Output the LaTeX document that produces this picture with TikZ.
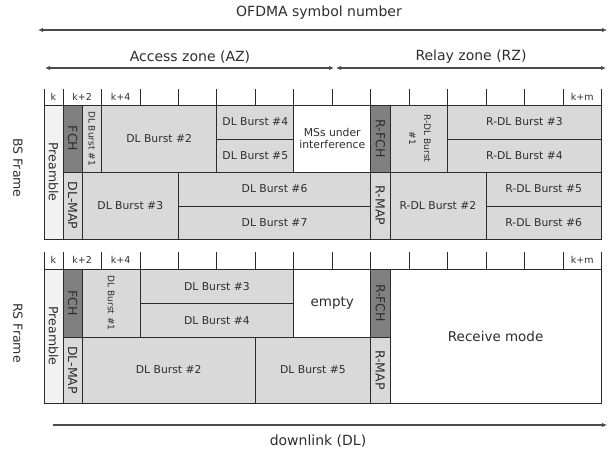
\documentclass[tikz,border=0pt]{standalone}
\usepackage{fontspec}
\setmainfont{DejaVu Sans}
\usepackage{graphicx}
\usetikzlibrary{arrows.meta}
\definecolor{lg}{HTML}{D9D9D9}
\definecolor{dg}{HTML}{808080}
\definecolor{pg}{HTML}{F2F2F2}
\definecolor{ln}{HTML}{2B2B2B}
\definecolor{tx}{HTML}{2E2E2E}
\definecolor{ar}{HTML}{4A4A4A}
\newcommand\cellbox[7]{\pgfmathsetmacro\cbw{#4-#2}\pgfmathsetmacro\cbh{#5-#3}%
  \node[#6,anchor=north west,minimum width=\cbw pt,minimum height=\cbh pt] (#1) at (#2,#3) {#7};}
\newcommand\rot[1]{\rotatebox{-90}{#1}}
\begin{document}
\begin{tikzpicture}[x=1pt,y=-1pt,
  cellbase/.style={draw=ln,line width=0.8pt,inner sep=0pt,outer sep=0pt,text=tx,
    font=\fontsize{10.8}{12.5}\selectfont,align=center},
  lgc/.style={cellbase,fill=lg},
  dgc/.style={cellbase,fill=dg},
  pgc/.style={cellbase,fill=pg},
  wc/.style={cellbase,fill=white},
  sidefont/.style={font=\fontsize{12.5}{14}\selectfont},
  smallrot/.style={font=\fontsize{9}{11}\selectfont},
  bigtxt/.style={font=\fontsize{13.5}{16}\selectfont},
  lbl/.style={text=tx,inner sep=0pt,font=\fontsize{14}{16}\selectfont},
  ticklbl/.style={text=tx,inner sep=0pt,font=\fontsize{9.5}{11}\selectfont},
  tickline/.style={draw=ln,line width=0.8pt},
  arr/.style={draw=ar,line width=1.4pt},
  tip/.style={}
]
\useasboundingbox (0,0) rectangle (610,455);

% column positions
\def\cL{44}\def\ca{63}\def\chA{82.2}\def\cb{101.5}\def\cc{140}\def\cd{178.4}
\def\ce{216.8}\def\cf{255.3}\def\cg{293.8}\def\chh{332.2}\def\ci{370.7}
\def\chB{389.9}\def\cj{409.1}\def\ck{447.6}\def\cl{486}\def\cm{524.5}\def\cn{563}\def\cR{601.4}

% ---------- top labels and arrows ----------
\node[lbl] (ofdma) at (319,13) {OFDMA symbol number};
\coordinate (o1) at (38,30); \coordinate (o2) at (607,30);
\draw[arr,{Latex[length=5pt,width=4.5pt]}-{Latex[length=5pt,width=4.5pt]}] (o1) -- (o2);
\node[lbl] (az) at (190,57) {Access zone (AZ)};
\node[lbl] (rz) at (471,57) {Relay zone (RZ)};
\coordinate (a1) at (45,68); \coordinate (a2) at (334,68);
\coordinate (r1) at (336,68); \coordinate (r2) at (606,68);
\draw[arr,{Latex[length=5pt,width=4.5pt]}-{Latex[length=5pt,width=4.5pt]}] (a1) -- (a2);
\draw[arr,{Latex[length=5pt,width=4.5pt]}-{Latex[length=5pt,width=4.5pt]}] (r1) -- (r2);

% ---------- BS frame ----------
\foreach \x in {\cL,\ca,\cb,\cc,\cd,\ce,\cf,\cg,\chh,\ci,\cj,\ck,\cl,\cm,\cn,\cR}
  \draw[tickline] (\x,89) -- (\x,105);
\node[ticklbl] (bk0) at (53.5,97) {k};
\node[ticklbl] (bk2) at (82.2,97) {k+2};
\node[ticklbl] (bk4) at (120.7,97) {k+4};
\node[ticklbl] (bkm) at (582.2,97) {k+m};

\def\T{105}\def\Qa{139}\def\M{172}\def\Qb{206}\def\B{239}
\cellbox{bpre}{\cL}{\T}{\ca}{\B}{pgc,sidefont}{\rot{Preamble}}
\cellbox{bfch}{\ca}{\T}{\chA}{\M}{dgc,sidefont}{\rot{FCH}}
\cellbox{bmap}{\ca}{\M}{\chA}{\B}{lgc,sidefont}{\rot{DL-MAP}}
\cellbox{bb1}{\chA}{\T}{\cb}{\M}{lgc,smallrot}{\rot{DL Burst \#1}}
\cellbox{bb2}{\cb}{\T}{\ce}{\M}{lgc}{DL Burst \#2}
\cellbox{bb4}{\ce}{\T}{\cg}{\Qa}{lgc}{DL Burst \#4}
\cellbox{bb5}{\ce}{\Qa}{\cg}{\M}{lgc}{DL Burst \#5}
\cellbox{bms}{\cg}{\T}{\ci}{\M}{wc}{MSs under\\[-1pt]interference}
\cellbox{bb3}{\chA}{\M}{\cd}{\B}{lgc}{DL Burst \#3}
\cellbox{bb6}{\cd}{\M}{\ci}{\Qb}{lgc}{DL Burst \#6}
\cellbox{bb7}{\cd}{\Qb}{\ci}{\B}{lgc}{DL Burst \#7}
\cellbox{brfch}{\ci}{\T}{\chB}{\M}{dgc,sidefont}{\rot{R-FCH}}
\cellbox{brmap}{\ci}{\M}{\chB}{\B}{lgc,sidefont}{\rot{R-MAP}}
\cellbox{br1}{\chB}{\T}{\ck}{\M}{lgc,smallrot}{\rot{\begin{tabular}{@{}c@{}}R-DL Burst\\[4pt]\#1\end{tabular}}}
\cellbox{br3}{\ck}{\T}{\cR}{\Qa}{lgc}{R-DL Burst \#3}
\cellbox{br4}{\ck}{\Qa}{\cR}{\M}{lgc}{R-DL Burst \#4}
\cellbox{br2}{\chB}{\M}{\cl}{\B}{lgc}{R-DL Burst \#2}
\cellbox{br5}{\cl}{\M}{\cR}{\Qb}{lgc}{R-DL Burst \#5}
\cellbox{br6}{\cl}{\Qb}{\cR}{\B}{lgc}{R-DL Burst \#6}
\node[lbl,font=\fontsize{12.5}{15}\selectfont] (bsf) at (18,168) {\rot{BS Frame}};

% ---------- RS frame ----------
\foreach \x in {\cL,\ca,\cb,\cc,\cd,\ce,\cf,\cg,\chh,\ci,\cj,\ck,\cl,\cm,\cn,\cR}
  \draw[tickline] (\x,252) -- (\x,269);
\node[ticklbl] (rk0) at (53.5,260) {k};
\node[ticklbl] (rk2) at (82.2,260) {k+2};
\node[ticklbl] (rk4) at (120.7,260) {k+4};
\node[ticklbl] (rkm) at (582.2,260) {k+m};

\def\T{269}\def\Qa{303.5}\def\M{337}\def\B{403}
\cellbox{rpre}{\cL}{\T}{\ca}{\B}{pgc,sidefont}{\rot{Preamble}}
\cellbox{rfch}{\ca}{\T}{\chA}{\M}{dgc,sidefont}{\rot{FCH}}
\cellbox{rmap}{\ca}{\M}{\chA}{\B}{lgc,sidefont}{\rot{DL-MAP}}
\cellbox{rb1}{\chA}{\T}{\cc}{\M}{lgc,smallrot}{\rot{DL Burst \#1}}
\cellbox{rb3}{\cc}{\T}{\cg}{\Qa}{lgc}{DL Burst \#3}
\cellbox{rb4}{\cc}{\Qa}{\cg}{\M}{lgc}{DL Burst \#4}
\cellbox{remp}{\cg}{\T}{\ci}{\M}{wc,bigtxt}{empty}
\cellbox{rb2}{\chA}{\M}{\cf}{\B}{lgc}{DL Burst \#2}
\cellbox{rb5}{\cf}{\M}{\ci}{\B}{lgc}{DL Burst \#5}
\cellbox{rrfch}{\ci}{\T}{\chB}{\M}{dgc,sidefont}{\rot{R-FCH}}
\cellbox{rrmap}{\ci}{\M}{\chB}{\B}{lgc,sidefont}{\rot{R-MAP}}
\cellbox{rrec}{\chB}{\T}{\cR}{\B}{wc,bigtxt}{Receive mode}
\node[lbl,font=\fontsize{12.5}{15}\selectfont] (rsf) at (18,333) {\rot{RS Frame}};

% ---------- bottom arrow ----------
\coordinate (d1) at (53,425); \coordinate (d2) at (607,425);
\draw[arr,-{Latex[length=5pt,width=4.5pt]}] (d1) -- (d2);
\node[lbl] (dl) at (318,441) {downlink (DL)};
\end{tikzpicture}
\end{document}
